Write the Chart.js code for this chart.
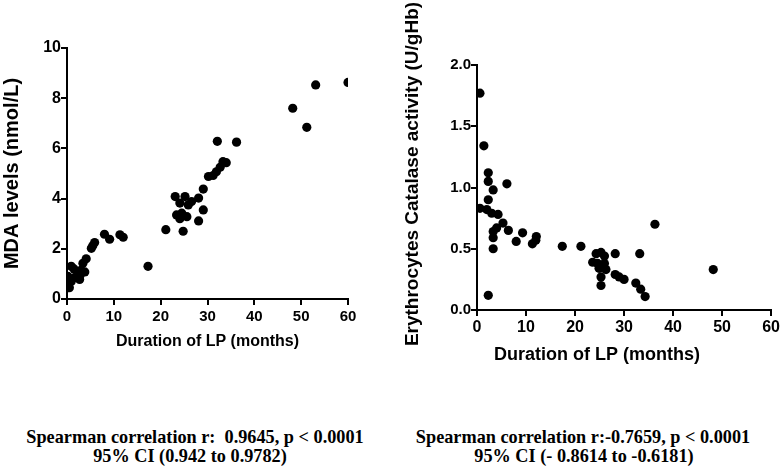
<!DOCTYPE html>
<html>
<head>
<meta charset="utf-8">
<script src="https://cdn.jsdelivr.net/npm/chart.js@4.4.1/dist/chart.umd.min.js"></script>
<style>
  html, body { margin: 0; padding: 0; background: #fff; }
  #wrap { position: relative; width: 782px; height: 473px; overflow: hidden; background: #fff; }
  canvas { position: absolute; top: 0; }
  #c1 { left: 0; }
  #c2 { left: 391px; }
  .note { position: absolute; font-family: 'Liberation Serif', 'Times New Roman', serif; font-weight: bold;
          font-size: 19px; color: #000; white-space: pre; transform: translateX(-50%) scaleX(0.96); line-height: 20px; }
</style>
</head>
<body>
<div id="wrap">
  <canvas id="c1" width="391" height="400"></canvas>
  <canvas id="c2" width="391" height="400"></canvas>
  <div class="note" id="n1a" style="left:195px; top:427px;"></div>
  <div class="note" id="n1b" style="left:190px; top:446px;"></div>
  <div class="note" id="n2a" style="left:583px; top:427px;"></div>
  <div class="note" id="n2b" style="left:584px; top:446px;"></div>
</div>
<script>
// ---- data ----
const mdaDuration = [0.5, 0.2, 0.9, 0.9, 1.6, 2.3, 2.7, 3.0, 3.8, 3.4, 4.1, 1.5, 2.8,
  5.2, 5.5, 5.9, 8.0, 9.1, 11.3, 12.0, 17.3, 21.1,
  23.1, 23.4, 24.1, 24.1, 24.5, 24.8, 25.2, 25.6, 25.9, 26.6, 28.1, 28.1, 29.1, 29.1,
  30.2, 31.2, 31.9, 32.7, 33.3, 34.0, 32.1, 36.2, 48.2, 51.2, 53.1, 60.0];
const mdaLevels = [0.45, 0.9, 0.7, 1.3, 0.85, 1.0, 0.78, 1.15, 1.08, 1.42, 1.6, 1.2, 0.95,
  2.02, 2.12, 2.25, 2.58, 2.38, 2.56, 2.46, 1.3, 2.76,
  4.08, 3.35, 3.82, 3.2, 3.42, 2.7, 4.08, 3.28, 3.75, 3.88, 4.02, 3.11, 3.55, 4.38,
  4.88, 4.92, 5.07, 5.25, 5.47, 5.43, 6.28, 6.25, 7.6, 6.84, 8.53, 8.63];

const catDuration = [0.6, 1.4, 2.3, 2.3, 3.3, 2.3, 6.1, 0.6, 2.0, 3.0, 4.3, 5.3, 6.4, 4.0,
  3.3, 3.3, 3.3, 2.3, 8.0, 9.3, 11.3, 12.1, 12.0, 17.4, 21.2,
  24.3, 25.3, 26.0, 28.2, 33.2, 36.3, 23.6, 24.6, 26.0, 24.9, 26.3, 25.3, 25.3,
  28.2, 29.0, 30.0, 32.4, 33.4, 34.3, 48.2];
const catActivity = [1.77, 1.34, 1.12, 1.05, 0.98, 0.90, 1.03, 0.83, 0.82, 0.79, 0.78, 0.71, 0.65, 0.67,
  0.64, 0.59, 0.50, 0.12, 0.56, 0.63, 0.54, 0.60, 0.57, 0.52, 0.52,
  0.46, 0.47, 0.44, 0.46, 0.46, 0.70, 0.39, 0.38, 0.38, 0.34, 0.33, 0.27, 0.20,
  0.29, 0.27, 0.25, 0.22, 0.17, 0.11, 0.33];

const xTicks = [0, 10, 20, 30, 40, 50, 60];
const mdaTicks = [0, 2, 4, 6, 8, 10];
const catTicks = [0.0, 0.5, 1.0, 1.5, 2.0];

const xTitle = 'Duration of LP (months)';
const mdaTitle = 'MDA levels (nmol/L)';
const catTitle = 'Erythrocytes Catalase activity (U/gHb)';
const notes = {
  n1a: 'Spearman correlation r:  0.9645, p < 0.0001',
  n1b: '95% CI (0.942 to 0.9782)',
  n2a: 'Spearman correlation r:-0.7659, p < 0.0001',
  n2b: '95% CI (- 0.8614 to -0.6181)'
};
for (const k in notes) document.getElementById(k).textContent = notes[k];

// ---- helpers ----
const SANS = "'Liberation Sans', Arial, sans-serif";

function pts(xs, ys) { return xs.map((x, i) => ({ x: x, y: ys[i] })); }

// free-positioned axis titles (the reference does not centre them on the axes)
const freeTitles = {
  id: 'freeTitles',
  afterDraw(chart, args, o) {
    if (!o || !o.items) return;
    const ctx = chart.ctx;
    o.items.forEach(it => {
      ctx.save();
      ctx.translate(it.x, it.y);
      if (it.rot) ctx.rotate(it.rot);
      ctx.font = it.font;
      ctx.fillStyle = '#000';
      ctx.textAlign = 'center';
      ctx.textBaseline = 'middle';
      ctx.fillText(it.text, 0, 0);
      ctx.restore();
    });
  }
};

// outward tick marks on both axes, at the scale's own tick positions
const tickMarks = {
  id: 'tickMarks',
  afterDraw(chart) {
    const ctx = chart.ctx;
    const xs = chart.scales.x, ys = chart.scales.y;
    const len = 6;
    ctx.save();
    ctx.strokeStyle = '#000';
    ctx.lineWidth = 2;
    ctx.beginPath();
    xs.ticks.forEach(t => {
      const px = Math.round(xs.getPixelForValue(t.value));
      ctx.moveTo(px, xs.top);
      ctx.lineTo(px, xs.top + len);
    });
    ys.ticks.forEach(t => {
      const py = Math.round(ys.getPixelForValue(t.value));
      ctx.moveTo(ys.right - len, py);
      ctx.lineTo(ys.right, py);
    });
    ctx.stroke();
    ctx.restore();
  }
};

function axisBase() {
  return {
    grid: { display: true, drawOnChartArea: false, drawTicks: true, tickLength: 6,
            color: '#000', lineWidth: 2, tickColor: '#000', tickWidth: 2 },
    border: { display: true, color: '#000', width: 2 }
  };
}

function makeChart(id, data, cfg) {
  return new Chart(document.getElementById(id), {
    type: 'scatter',
    data: { datasets: [{ data: data, backgroundColor: '#000', borderColor: '#000',
      pointRadius: 4.6, pointHoverRadius: 4.6, borderWidth: 0 }] },
    options: {
      responsive: false, animation: false, events: [],
      layout: { padding: cfg.padding },
      plugins: { legend: { display: false }, tooltip: { enabled: false }, freeTitles: cfg.free },
      scales: {
        x: Object.assign(axisBase(), {
          type: 'linear', min: 0, max: 60,
          afterBuildTicks: s => { s.ticks = xTicks.map(v => ({ value: v })); },
          ticks: { color: '#000', font: cfg.xTickFont, padding: cfg.xTickPad, maxRotation: 0, autoSkip: false },
          title: cfg.xTitle,
          afterFit: s => { s.height = cfg.xHeight; }
        }),
        y: Object.assign(axisBase(), {
          type: 'linear', min: cfg.yMin, max: cfg.yMax,
          afterBuildTicks: s => { s.ticks = cfg.yTicks.map(v => ({ value: v })); },
          ticks: { color: '#000', font: cfg.yTickFont, padding: 0, autoSkip: false, callback: cfg.yFmt },
          title: cfg.yTitle,
          afterFit: s => { s.width = cfg.yWidth; }
        })
      }
    },
    plugins: [tickMarks, freeTitles]
  });
}

makeChart('c1', pts(mdaDuration, mdaLevels), {
  padding: { left: 0, right: 43, top: 48, bottom: 0 },
  xHeight: 101, xTickPad: 3,
  xTickFont: { family: SANS, size: 15, weight: 'bold' },
  xTitle: { display: true, text: xTitle, color: '#000', font: { family: SANS, size: 16, weight: 'bold' }, padding: { top: 0, bottom: 49 } },
  yMin: 0, yMax: 10, yTicks: mdaTicks, yWidth: 67,
  yTickFont: { family: SANS, size: 16, weight: 'bold' },
  yFmt: v => String(v),
  yTitle: { display: true, text: mdaTitle, color: '#000', font: { family: SANS, size: 20, weight: 'bold' }, padding: { top: 0.5, bottom: 0 } },
  free: {}
});

makeChart('c2', pts(catDuration, catActivity), {
  padding: { left: 0, right: 9, top: 65, bottom: 0 },
  xHeight: 90, xTickPad: 2,
  xTickFont: { family: SANS, size: 16, weight: 'bold' },
  xTitle: { display: false },
  yMin: 0, yMax: 2.0, yTicks: catTicks, yWidth: 86,
  yTickFont: { family: SANS, size: 15, weight: 'bold' },
  yFmt: v => Number(v).toFixed(1),
  yTitle: { display: false },
  free: { items: [
    { text: catTitle, x: 22, y: 174, rot: -Math.PI / 2, font: 'bold 19px ' + SANS },
    { text: xTitle, x: 206, y: 355, rot: 0, font: 'bold 18px ' + SANS }
  ] }
});
</script>
</body>
</html>
